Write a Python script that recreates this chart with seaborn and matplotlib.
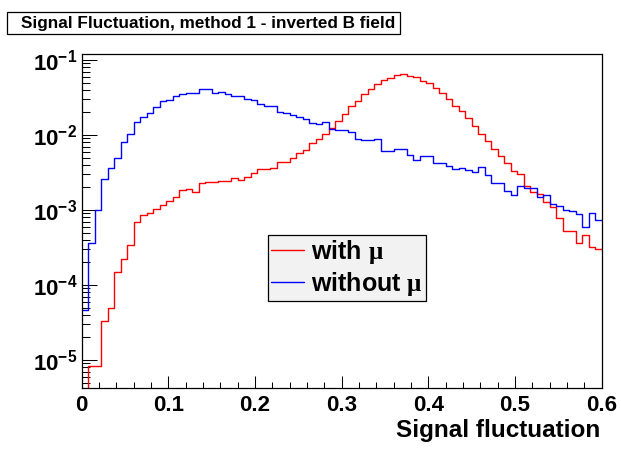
import numpy as np
import pandas as pd
import matplotlib
matplotlib.use("Agg")
import matplotlib.pyplot as plt
import seaborn as sns
from matplotlib.lines import Line2D
from matplotlib.patches import Rectangle
from matplotlib.ticker import FixedLocator, FixedFormatter, NullFormatter, LogLocator, MultipleLocator

# 80 bins from 0 to 0.6 (bin contents, normalised)
n_bins = 80
x_range = (0.0, 0.6)

with_mu = [
    0.0,
    8.4e-6, 8.4e-6, 3.3e-5, 5.0e-5, 1.5e-4, 2.2e-4, 3.45e-4, 6.9e-4, 8.7e-4, 9.0e-4,
    1.04e-3, 1.18e-3, 1.33e-3, 1.51e-3, 1.83e-3, 1.89e-3, 1.72e-3, 2.31e-3, 2.33e-3, 2.33e-3,
    2.46e-3, 2.46e-3, 2.7e-3, 2.5e-3, 2.78e-3, 3.08e-3, 3.49e-3, 3.49e-3, 3.66e-3, 4.4e-3,
    4.4e-3, 5.0e-3, 5.7e-3, 6.3e-3, 7.7e-3, 8.75e-3, 0.0103, 0.0123, 0.0153, 0.0188,
    0.0245, 0.0284, 0.0352, 0.0406, 0.0474, 0.0541, 0.057, 0.0625, 0.0644, 0.0612,
    0.0587, 0.053, 0.0489, 0.0419, 0.0367, 0.0299, 0.0246, 0.0209, 0.0167, 0.0132,
    0.0104, 8.4e-3, 6.6e-3, 5.3e-3, 4.27e-3, 3.3e-3, 3.05e-3, 2.11e-3, 1.75e-3, 1.62e-3,
    1.26e-3, 1.09e-3, 7.9e-4, 5.3e-4, 5.3e-4, 3.6e-4, 4.7e-4, 3.25e-4, 3.0e-4,
]

without_mu = [
    4.6e-5,
    3.66e-4, 9.9e-4, 2.6e-3, 3.6e-3, 4.9e-3, 8.0e-3, 0.0104, 0.0149, 0.0172, 0.0195,
    0.0236, 0.0284, 0.0293, 0.0328, 0.0349, 0.0367, 0.0367, 0.0405, 0.0405, 0.036,
    0.037, 0.0349, 0.0334, 0.0334, 0.0305, 0.029, 0.0259, 0.0244, 0.0244, 0.0203,
    0.0195, 0.0186, 0.0175, 0.0162, 0.0143, 0.0139, 0.0148, 0.0119, 0.0117, 0.0117,
    0.0111, 8.85e-3, 8.58e-3, 8.58e-3, 8.75e-3, 6.18e-3, 6.18e-3, 6.5e-3, 6.5e-3, 5.41e-3,
    4.64e-3, 5.3e-3, 5.3e-3, 4.19e-3, 4.27e-3, 3.86e-3, 3.56e-3, 3.63e-3, 3.41e-3, 3.22e-3,
    3.71e-3, 2.93e-3, 2.27e-3, 2.27e-3, 1.79e-3, 1.58e-3, 2.11e-3, 1.98e-3, 1.98e-3, 1.48e-3,
    1.58e-3, 1.19e-3, 1.14e-3, 1.0e-3, 9.7e-4, 8.85e-4, 5.9e-4, 9.0e-4, 7.4e-4,
]

series_labels = ["with $\\mathrm{\\mu}$", "without $\\mathrm{\\mu}$"]
series_colors = ["#ff0000", "#0000ff"]
x_ticks = [0.0, 0.1, 0.2, 0.3, 0.4, 0.5, 0.6]
x_ticklabels = ["0", "0.1", "0.2", "0.3", "0.4", "0.5", "0.6"]
y_ticks = [1e-5, 1e-4, 1e-3, 1e-2, 1e-1]
y_ticklabels = [r"$\mathbf{10^{-5}}$", r"$\mathbf{10^{-4}}$", r"$\mathbf{10^{-3}}$",
                r"$\mathbf{10^{-2}}$", r"$\mathbf{10^{-1}}$"]

sns.set_theme(style="white")
plt.rcParams["font.family"] = ["Liberation Sans", "DejaVu Sans"]
plt.rcParams["font.weight"] = "bold"
plt.rcParams["text.color"] = "black"
plt.rcParams["axes.labelcolor"] = "black"
plt.rcParams["mathtext.fontset"] = "custom"
plt.rcParams["mathtext.bf"] = "Liberation Sans:bold"
plt.rcParams["mathtext.rm"] = "Liberation Serif"
plt.rcParams["mathtext.it"] = "Liberation Serif:italic"

edges = np.linspace(x_range[0], x_range[1], n_bins + 1)
centers = 0.5 * (edges[:-1] + edges[1:])

fig = plt.figure(figsize=(6.21, 4.51), dpi=100)
W, H = 621, 451
ax = fig.add_axes([81.7 / W, 1 - 388.3 / H, 520 / W, 334 / H])

for vals, col in zip([with_mu, without_mu], series_colors):
    df = pd.DataFrame({"x": centers, "w": vals})
    sns.histplot(data=df, x="x", weights="w", bins=list(edges), element="step", fill=False,
                 color=col, linewidth=1.0, ax=ax)

ax.set_yscale("log")
ax.set_xlim(*x_range)
ax.set_ylim(4.2e-6, 0.119)

ax.xaxis.set_major_locator(FixedLocator(x_ticks))
ax.xaxis.set_major_formatter(FixedFormatter(x_ticklabels))
ax.xaxis.set_minor_locator(MultipleLocator(0.02))
ax.yaxis.set_major_locator(FixedLocator(y_ticks))
ax.yaxis.set_major_formatter(FixedFormatter(y_ticklabels))
ax.yaxis.set_minor_locator(LogLocator(base=10, subs=np.arange(2, 10), numticks=20))
ax.yaxis.set_minor_formatter(NullFormatter())

ax.tick_params(axis="both", which="both", direction="in", top=False, right=False,
               bottom=True, left=True, colors="black", width=0.75)
ax.tick_params(axis="x", which="major", length=8.6, labelsize=16, pad=5)
ax.tick_params(axis="x", which="minor", length=4.3)
ax.tick_params(axis="y", which="major", length=10.8, labelsize=16, pad=3)
ax.tick_params(axis="y", which="minor", length=5.8)
for s in ax.spines.values():
    s.set_visible(True)
    s.set_color("black")
    s.set_linewidth(0.9)

ax.set_ylabel("")
ax.set_xlabel("Signal fluctuation", fontsize=17.5, fontweight="bold", ha="right", color="black")
ax.xaxis.set_label_coords(0.997, -0.093)

handles = [Line2D([], [], color=c, lw=1.0) for c in series_colors]
leg = ax.legend(handles, series_labels, loc="upper left",
                bbox_to_anchor=(268 / W, 1 - 235 / H), bbox_transform=fig.transFigure,
                borderaxespad=0, fontsize=18, frameon=True, fancybox=False,
                facecolor="#f2f2f2", edgecolor="black", framealpha=1,
                borderpad=0.12, labelspacing=0.15, handlelength=1.3, handletextpad=0.3,
                labelcolor="black")
leg.get_frame().set_linewidth(0.9)

# title box
fig.patches.append(Rectangle((6.7 / W, 1 - 34 / H), 393.3 / W, 22 / H,
                             transform=fig.transFigure, facecolor="white",
                             edgecolor="black", linewidth=0.9))
fig.text(208 / W, 1 - 27.7 / H, "Signal Fluctuation, method 1 - inverted B field",
         ha="center", va="baseline", fontsize=12.3, fontweight="bold", color="black")

fig.savefig("out.png", dpi=100, facecolor="white")
